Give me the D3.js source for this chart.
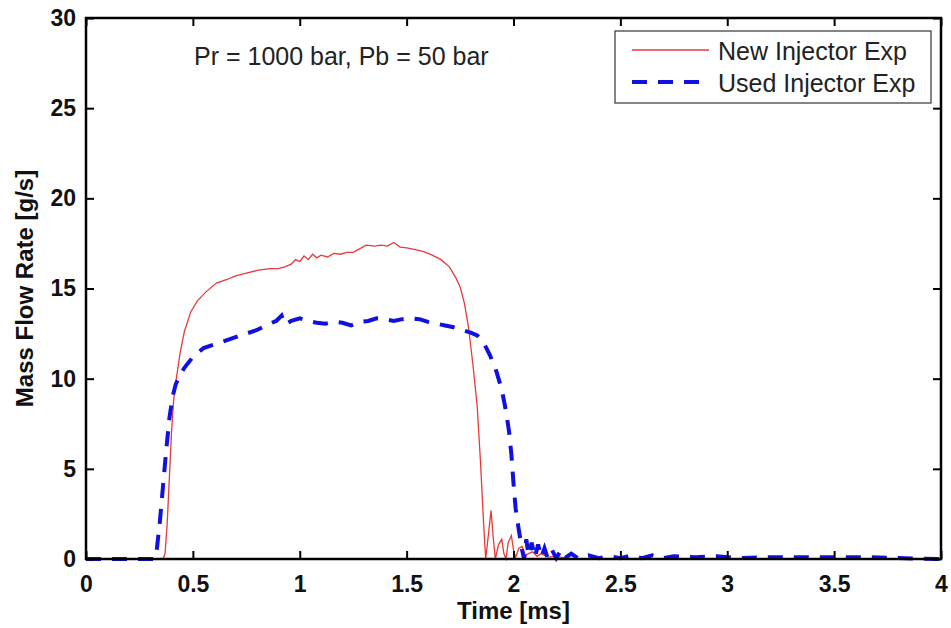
<!DOCTYPE html>
<html>
<head>
<meta charset="utf-8">
<script src="https://cdn.jsdelivr.net/npm/d3@7"></script>
<style>
  html, body { margin: 0; padding: 0; background: #fff; }
  svg { display: block; font-family: "Liberation Sans", Arial, sans-serif; }
</style>
</head>
<body>
<div id="chart"></div>
<script>
// Time [ms] and mass flow rate [g/s]
const newTime = [0, 0.36, 0.37, 0.38, 0.39, 0.40, 0.41, 0.42, 0.44, 0.46, 0.49, 0.52, 0.56, 0.61, 0.66, 0.70, 0.75, 0.80, 0.86, 0.90,
  0.93, 0.96, 0.98, 1.00, 1.02, 1.04, 1.06, 1.08, 1.10, 1.13, 1.16, 1.19, 1.22, 1.25, 1.28, 1.31, 1.35, 1.38, 1.41, 1.44,
  1.47, 1.50, 1.54, 1.58, 1.62, 1.66, 1.70, 1.73, 1.75, 1.77, 1.79, 1.81, 1.83, 1.845, 1.86, 1.87, 1.885, 1.895, 1.905, 1.915,
  1.93, 1.945, 1.955, 1.965, 1.975, 1.99, 2.00, 2.01, 2.025, 2.04, 2.055, 2.07, 2.09, 2.11, 2.13, 2.16, 2.20, 2.25, 2.30, 4.0];
const newFlow = [0, 0, 0.3, 2.0, 4.5, 7.0, 8.8, 9.8, 11.4, 12.6, 13.7, 14.3, 14.8, 15.3, 15.5, 15.7, 15.85, 16.0, 16.1, 16.1,
  16.2, 16.35, 16.6, 16.5, 16.8, 16.6, 16.9, 16.7, 16.85, 16.75, 16.95, 16.9, 17.0, 17.0, 17.2, 17.4, 17.35, 17.4, 17.35, 17.55,
  17.3, 17.25, 17.15, 17.05, 16.85, 16.6, 16.2, 15.6, 15.1, 14.2, 12.8, 10.8, 8.5, 5.5, 2.0, 0, 1.6, 2.7, 1.2, 0,
  0.8, 1.1, 0.3, 0, 0.9, 1.3, 0.5, 0.1, 0.6, 0.7, 0.2, 0.3, 0.4, 0.15, 0.3, 0.1, 0.15, 0.05, 0, 0];

const usedTime = [0, 0.32, 0.33, 0.345, 0.36, 0.375, 0.39, 0.405, 0.42, 0.44, 0.46, 0.50, 0.55, 0.60, 0.65, 0.70, 0.75, 0.80, 0.85, 0.89,
  0.915, 0.93, 0.96, 1.00, 1.04, 1.08, 1.12, 1.16, 1.20, 1.24, 1.28, 1.32, 1.36, 1.40, 1.44, 1.48, 1.52, 1.56, 1.60, 1.64,
  1.68, 1.72, 1.76, 1.80, 1.83, 1.86, 1.89, 1.92, 1.945, 1.965, 1.98, 1.99, 2.00, 2.01, 2.025, 2.04, 2.05, 2.06, 2.07, 2.085,
  2.10, 2.115, 2.13, 2.145, 2.16, 2.18, 2.20, 2.22, 2.24, 2.27, 2.30, 2.35, 2.40, 2.45, 2.50, 2.55, 2.60, 2.65, 2.70, 2.75,
  2.85, 2.95, 3.05, 3.20, 3.35, 3.50, 3.65, 3.80, 4.0];
const usedFlow = [0, 0, 0.4, 2.0, 4.0, 6.0, 7.8, 9.0, 9.7, 10.2, 10.6, 11.2, 11.7, 11.9, 12.1, 12.3, 12.5, 12.7, 13.0, 13.2,
  13.5, 13.0, 13.2, 13.35, 13.2, 13.1, 13.05, 13.15, 13.1, 12.95, 13.15, 13.2, 13.35, 13.3, 13.2, 13.3, 13.35, 13.3, 13.15, 13.05,
  12.95, 12.85, 12.7, 12.55, 12.4, 12.0, 11.3, 10.4, 9.4, 8.2, 7.0, 5.8, 4.2, 2.8, 1.6, 0.5, 0, 1.1, 0.2, 0.9,
  0.1, 0.8, 0.1, 0.6, 0.05, 0.5, 0.05, 0.45, 0.05, 0.3, 0.05, 0.2, 0.05, 0.15, 0.05, 0.2, 0.05, 0.2, 0.05, 0.15,
  0.1, 0.15, 0.05, 0.1, 0.1, 0.1, 0.1, 0.05, 0];

const xTicks = [0, 0.5, 1, 1.5, 2, 2.5, 3, 3.5, 4];
const yTicks = [0, 5, 10, 15, 20, 25, 30];
const seriesNames = ["New Injector Exp", "Used Injector Exp"];
const note = "Pr = 1000 bar, Pb = 50 bar";

const W = 951, H = 628;
const margin = { top: 18, right: 10, bottom: 69, left: 86 };
const iw = W - margin.left - margin.right;
const ih = H - margin.top - margin.bottom;

const svg = d3.select("#chart").append("svg")
  .attr("width", W)
  .attr("height", H);

const g = svg.append("g").attr("transform", `translate(${margin.left},${margin.top})`);

const x = d3.scaleLinear().domain([0, 4]).range([0, iw]);
const y = d3.scaleLinear().domain([0, 30]).range([ih, 0]);

const fmt = d => String(d);

// lines
const line = d3.line().x(d => x(d[0])).y(d => y(d[1]));
const newData = newTime.map((t, i) => [t, newFlow[i]]);
const usedData = usedTime.map((t, i) => [t, usedFlow[i]]);

g.append("path")
  .datum(newData)
  .attr("d", line)
  .attr("fill", "none")
  .attr("stroke", "#e8393b")
  .attr("stroke-width", 1.3);

g.append("path")
  .datum(usedData)
  .attr("d", line)
  .attr("fill", "none")
  .attr("stroke", "#1010e0")
  .attr("stroke-width", 4)
  .attr("stroke-dasharray", "15,11");

// axes, ticks point inward on all four sides
const styleAxis = sel => {
  sel.select(".domain").remove();
  sel.selectAll(".tick line").attr("stroke", "#000").attr("stroke-width", 2);
};

g.append("g")
  .attr("transform", `translate(0,${ih})`)
  .call(d3.axisBottom(x).tickValues(xTicks).tickFormat(fmt).tickSizeInner(-8).tickPadding(17))
  .call(styleAxis)
  .call(a => a.selectAll("text")
    .attr("font-size", 23).attr("font-weight", "bold").attr("fill", "#111")
    .attr("font-family", "Liberation Sans, Arial, sans-serif"));

g.append("g")
  .call(d3.axisTop(x).tickValues(xTicks).tickFormat("").tickSizeInner(-8))
  .call(styleAxis);

g.append("g")
  .call(d3.axisLeft(y).tickValues(yTicks).tickFormat(fmt).tickSizeInner(-8).tickPadding(10))
  .call(styleAxis)
  .call(a => a.selectAll("text")
    .attr("font-size", 23).attr("font-weight", "bold").attr("fill", "#111")
    .attr("font-family", "Liberation Sans, Arial, sans-serif"));

g.append("g")
  .attr("transform", `translate(${iw},0)`)
  .call(d3.axisRight(y).tickValues(yTicks).tickFormat("").tickSizeInner(-8))
  .call(styleAxis);

// frame
g.append("rect")
  .attr("width", iw)
  .attr("height", ih)
  .attr("fill", "none")
  .attr("stroke", "#000")
  .attr("stroke-width", 2.5);

// axis titles
svg.append("text")
  .attr("x", margin.left + iw / 2)
  .attr("y", 619)
  .attr("text-anchor", "middle")
  .attr("font-size", 24)
  .attr("font-weight", "bold")
  .attr("fill", "#111")
  .text("Time [ms]");

svg.append("text")
  .attr("transform", `translate(33,${margin.top + ih / 2}) rotate(-90)`)
  .attr("text-anchor", "middle")
  .attr("font-size", 24)
  .attr("font-weight", "bold")
  .attr("fill", "#111")
  .text("Mass Flow Rate [g/s]");

// annotation
svg.append("text")
  .attr("x", 194)
  .attr("y", 65)
  .attr("font-size", 25)
  .attr("fill", "#222")
  .text(note);

// legend
const lg = svg.append("g").attr("transform", "translate(615,31)");
lg.append("rect")
  .attr("width", 316)
  .attr("height", 72)
  .attr("fill", "#fff")
  .attr("stroke", "#333")
  .attr("stroke-width", 1.2);

lg.append("line")
  .attr("x1", 17).attr("x2", 94).attr("y1", 19).attr("y2", 19)
  .attr("stroke", "#e8393b").attr("stroke-width", 1.3);
lg.append("line")
  .attr("x1", 17).attr("x2", 94).attr("y1", 51).attr("y2", 51)
  .attr("stroke", "#1010e0").attr("stroke-width", 4).attr("stroke-dasharray", "15,11");

lg.selectAll("text.leg")
  .data(seriesNames)
  .enter()
  .append("text")
  .attr("class", "leg")
  .attr("x", 103)
  .attr("y", (d, i) => 29 + i * 32)
  .attr("font-size", 25)
  .attr("fill", "#222")
  .text(d => d);
</script>
</body>
</html>
